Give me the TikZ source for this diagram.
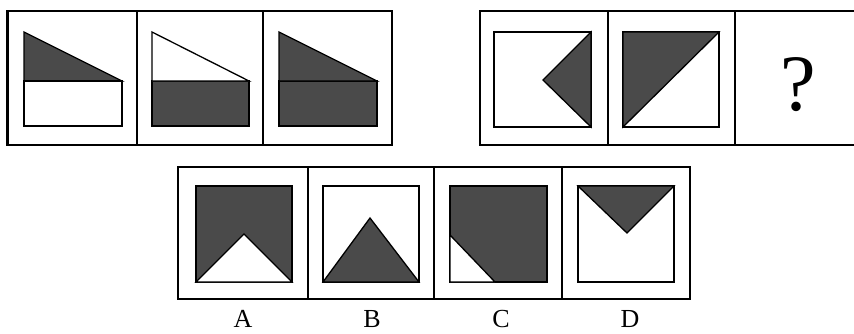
\documentclass[tikz,border=0pt]{standalone}
\usepackage{fontspec}
\setmainfont{Liberation Serif}
\definecolor{cDark}{RGB}{74,74,74}

\begin{document}
\begin{tikzpicture}[x=1pt,y=-1pt,
        frame/.style={line width=1.6pt},
        part/.style={line width=1.3pt, line join=miter},
        optlabel/.style={inner sep=0pt, anchor=base, font=\fontsize{26}{26}\selectfont}]
        \useasboundingbox (0,0) rectangle (854,333);
        % first row, left group
        \draw[frame] (7,11) rectangle (392,145);
        \draw[line width=3pt] (7,10) -- (7,146);
        \draw[frame] (137,11) -- (137,145);
        \draw[frame] (263,11) -- (263,145);
        \draw[part, fill=cDark] (24,32) -- (122,81) -- (24,81) -- cycle;
        \draw[part, fill=white] (24,81) rectangle (122,126);
        \draw[part, fill=cDark] (152,81) rectangle (249,126);
        \draw[part, fill=white] (152,32) -- (249,81) -- (152,81) -- cycle;
        \draw[part, fill=cDark] (279,81) rectangle (377,126);
        \draw[part, fill=cDark] (279,32) -- (377,81) -- (279,81) -- cycle;
        % first row, right group
        \draw[frame] (854,11) -- (480,11) -- (480,145) -- (854,145);
        \draw[frame] (608,11) -- (608,145);
        \draw[frame] (735,11) -- (735,145);
        \draw[part, fill=white] (494,32) rectangle (591,127);
        \draw[part, fill=cDark] (591,32) -- (543,80) -- (591,127) -- cycle;
        \draw[part, fill=white] (623,32) rectangle (719,127);
        \draw[part, fill=cDark] (623,32) -- (719,32) -- (623,127) -- cycle;
        \node[inner sep=0pt, anchor=base, font=\fontsize{80}{80}\selectfont] (ask) at (798,110) {?};
        % options
        \draw[frame] (178,167) rectangle (690,299);
        \draw[frame] (308,167) -- (308,299);
        \draw[frame] (434,167) -- (434,299);
        \draw[frame] (562,167) -- (562,299);
        \draw[part, fill=cDark] (196,186) rectangle (292,282);
        \draw[part, fill=white] (196,282) -- (244,234) -- (292,282) -- cycle;
        \draw[part, fill=white] (323,186) rectangle (419,282);
        \draw[part, fill=cDark] (323,282) -- (370,218) -- (419,282) -- cycle;
        \draw[part, fill=cDark] (450,186) rectangle (547,282);
        \draw[part, fill=white] (450,235) -- (450,282) -- (495,282) -- cycle;
        \draw[part, fill=white] (578,186) rectangle (674,282);
        \draw[part, fill=cDark] (578,186) -- (674,186) -- (627,233) -- cycle;
        \node[optlabel] (lblA) at (243,327) {A};
        \node[optlabel] (lblB) at (372,327) {B};
        \node[optlabel] (lblC) at (501,327) {C};
        \node[optlabel] (lblD) at (630,327) {D};
        \end{tikzpicture}
\end{document}
